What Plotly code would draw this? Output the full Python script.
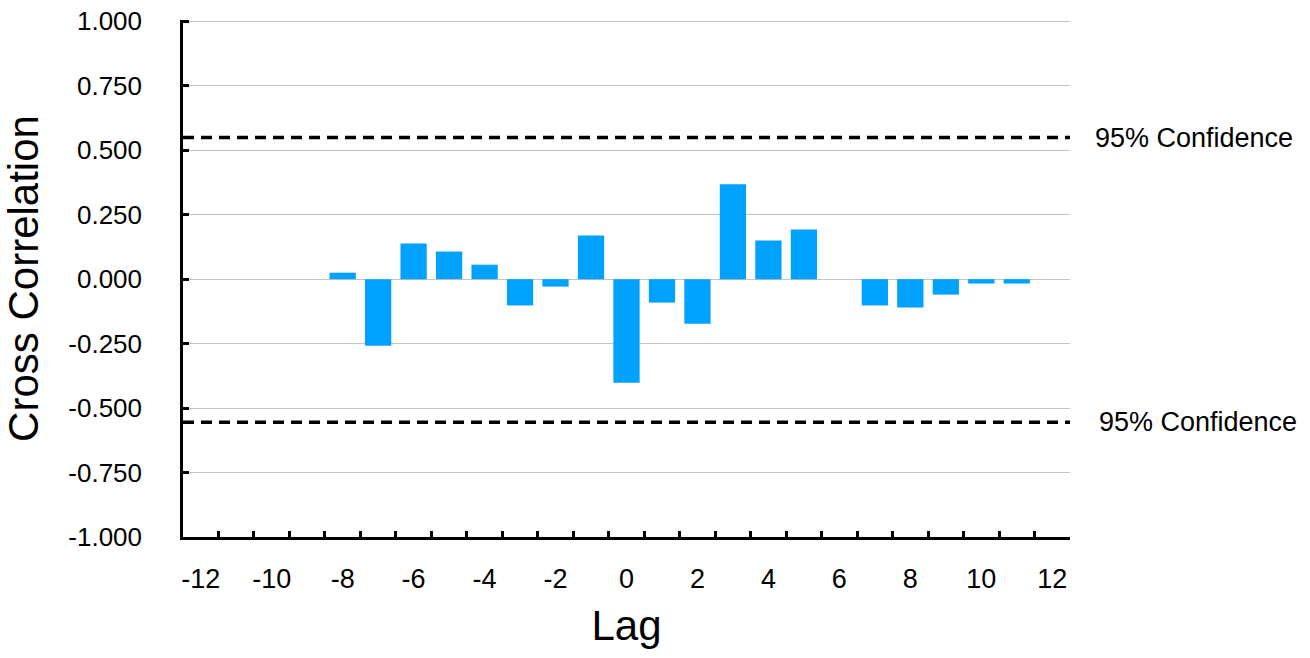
import plotly.graph_objects as go

lags = list(range(-12, 13))
corr = [None, None, None, None, 0.025, -0.258, 0.138, 0.107, 0.056, -0.102, -0.029, 0.169,
        -0.402, -0.091, -0.173, 0.368, 0.150, 0.193, None, -0.102, -0.110, -0.060, -0.017, -0.017, None]
x_tick_vals = list(range(-12, 13, 2))
y_tick_vals = [-1.0, -0.75, -0.5, -0.25, 0.0, 0.25, 0.5, 0.75, 1.0]
y_tick_text = ["-1.000", "-0.750", "-0.500", "-0.250", "0.000", "0.250", "0.500", "0.750", "1.000"]
conf_upper = 0.549
conf_lower = -0.555
conf_label = "95% Confidence"

FONT = "Liberation Sans, Arial, Helvetica, sans-serif"

fig = go.Figure()
fig.add_trace(go.Bar(x=lags, y=corr, marker=dict(color="#00A2FF", line=dict(width=0)),
                     width=0.74, showlegend=False))

for val in (conf_upper, conf_lower):
    fig.add_shape(type="line", xref="paper", yref="y", x0=0, x1=1, y0=val, y1=val,
                  line=dict(color="black", width=3.5, dash="11px,7px"), layer="above")

fig.add_annotation(xref="paper", yref="y", x=1.026, y=conf_upper, text=conf_label,
                   showarrow=False, xanchor="left", yanchor="middle",
                   font=dict(family=FONT, size=27, color="black"))
fig.add_annotation(xref="paper", yref="y", x=1.030, y=conf_lower, text=conf_label,
                   showarrow=False, xanchor="left", yanchor="middle",
                   font=dict(family=FONT, size=27, color="black"))

fig.update_layout(
    width=1310, height=658,
    margin=dict(l=183, r=240, t=20, b=121),
    paper_bgcolor="white", plot_bgcolor="white",
    font=dict(family=FONT, size=26, color="black"),
    xaxis=dict(
        automargin=False,
        range=[-12.5, 12.5],
        tickvals=x_tick_vals,
        ticktext=[str(v) for v in x_tick_vals],
        ticks="",
        showgrid=False, zeroline=False,
        showline=True, linecolor="black", linewidth=2.5,
        ticklabelstandoff=16,
        tickfont=dict(size=27),
        minor=dict(tickvals=[v + 0.5 for v in lags[:-1]], ticks="inside", ticklen=6,
                   tickwidth=2.5, tickcolor="black", showgrid=False),
        title=dict(text="Lag", font=dict(size=42), standoff=18),
    ),
    yaxis=dict(
        automargin=False,
        range=[-1.0, 1.005],
        tickvals=y_tick_vals,
        ticktext=y_tick_text,
        ticks="inside", ticklen=6, tickwidth=2.5, tickcolor="black",
        showgrid=True, gridcolor="#C4C4C4", gridwidth=1.3,
        zeroline=False,
        showline=True, linecolor="black", linewidth=2.5,
        ticklabelstandoff=33,
        tickfont=dict(size=26),
        title=dict(text="Cross Correlation", font=dict(size=42), standoff=18),
    ),
)

fig.write_html(
    "out.html",
    config={"displayModeBar": False},
    post_script="document.body.style.margin='0';document.body.style.overflow='hidden';",
)
